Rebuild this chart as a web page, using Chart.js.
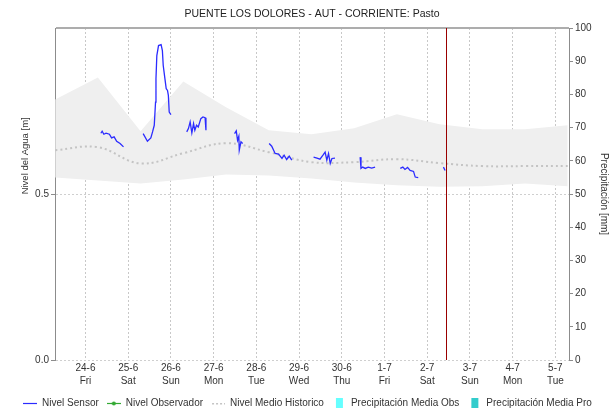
<!DOCTYPE html>
<html>
<head>
<meta charset="utf-8">
<title>Puente Los Dolores</title>
<script src="https://cdn.jsdelivr.net/npm/chart.js@4.4.0/dist/chart.umd.min.js"></script>
<style>
    html, body { margin: 0; padding: 0; background: #ffffff; }
    canvas { display: block; }
</style>
</head>
<body>
<canvas id="nivelChart" width="615" height="411"></canvas>
<script>
// nivel.js - water level chart for one station (sensor vs historic range)

// x axis is measured in days since 24-6 00:00
const dayLabels = ["24-6", "25-6", "26-6", "27-6", "28-6", "29-6", "30-6", "1-7", "2-7", "3-7", "4-7", "5-7"];
const weekdayLabels = ["Fri", "Sat", "Sun", "Mon", "Tue", "Wed", "Thu", "Fri", "Sat", "Sun", "Mon", "Tue"];

const levelTicks = [0, 0.5, 1.0];

// historic daily stats (07:00 each day)
const histDays = [-0.71, 0.29, 1.29, 2.29, 3.29, 4.29, 5.29, 6.29, 7.29, 8.29, 9.29, 10.29, 11.29];
const histUpper = [0.785, 0.851, 0.689, 0.839, 0.761, 0.692, 0.680, 0.698, 0.740, 0.710, 0.695, 0.695, 0.707];
const histLower = [0.550, 0.541, 0.532, 0.544, 0.559, 0.556, 0.547, 0.535, 0.526, 0.522, 0.523, 0.532, 0.523];
const histMedian = [0.632, 0.641, 0.592, 0.623, 0.653, 0.626, 0.596, 0.596, 0.605, 0.593, 0.584, 0.584, 0.584];

// sensor readings, null = no transmission
const sensorDays = [
    0.36, 0.39, 0.43, 0.48, 0.56, 0.61, 0.67, 0.73, 0.81, 0.89, null,
    1.35, 1.45, 1.53, 1.57, 1.61, 1.64, 1.65, 1.67, 1.71, 1.77, 1.80, 1.82, 1.86, 1.89, 1.92, 1.94, 1.96, 2.00, null,
    2.37, 2.41, 2.45, 2.49, 2.53, 2.56, 2.60, 2.64, 2.70, 2.75, 2.80, 2.82, null,
    3.49, 3.53, 3.56, 3.59, 3.60, 3.64, 3.68, null,
    4.30, 4.36, 4.44, 4.52, 4.60, 4.65, 4.71, 4.77, 4.83, null,
    5.34, 5.42, 5.49, 5.56, 5.61, 5.65, 5.69, 5.73, 5.77, 5.84, null,
    6.43, 6.45, 6.49, 6.55, 6.62, 6.70, 6.78, null,
    7.37, 7.43, 7.48, 7.54, 7.60, 7.68, 7.72, 7.79, null,
    8.38, 8.42
];
const sensorLevels = [
    0.683, 0.689, 0.680, 0.683, 0.680, 0.669, 0.672, 0.659, 0.652, 0.642, null,
    0.682, 0.659, 0.669, 0.687, 0.707, 0.777, 0.847, 0.917, 0.947, 0.950, 0.932, 0.887, 0.847, 0.817, 0.812, 0.797, 0.747, 0.739, null,
    0.687, 0.697, 0.717, 0.684, 0.712, 0.692, 0.707, 0.702, 0.727, 0.732, 0.730, 0.692, null,
    0.682, 0.690, 0.662, 0.674, 0.632, 0.657, 0.652, null,
    0.652, 0.644, 0.622, 0.620, 0.607, 0.617, 0.604, 0.614, 0.602, null,
    0.611, 0.608, 0.605, 0.617, 0.626, 0.602, 0.622, 0.592, 0.607, 0.608, null,
    0.611, 0.577, 0.581, 0.577, 0.581, 0.578, 0.581, null,
    0.577, 0.581, 0.574, 0.580, 0.571, 0.568, 0.551, 0.549, null,
    0.581, 0.571
];

// observer readings and rain: nothing reported this period
const observerDays = [];
const observerLevels = [];
const rainObs = [];
const rainForecast = [];

const nowDay = 8.436;      // 2-7 ~10:30
const viewStart = -0.714;
const viewEnd = 11.32;

const FONT = "'Liberation Sans', Arial, sans-serif";
const SENSOR_BLUE = '#2b2bff';
const OBS_GREEN = '#33aa33';
const HIST_GRAY = '#c4c4c4';

function points(xs, ys) {
    return xs.map((x, i) => ({ x: x, y: ys[i] }));
}

function legendIcon(draw) {
    const c = document.createElement('canvas');
    c.width = 14;
    c.height = 10;
    draw(c.getContext('2d'));
    return c;
}

const legendIcons = {
    'Nivel Sensor': legendIcon(g => {
        g.strokeStyle = SENSOR_BLUE;
        g.lineWidth = 1.2;
        g.beginPath(); g.moveTo(0, 5.5); g.lineTo(14, 5.5); g.stroke();
    }),
    'Nivel Observador': legendIcon(g => {
        g.strokeStyle = OBS_GREEN;
        g.fillStyle = OBS_GREEN;
        g.lineWidth = 1.2;
        g.beginPath(); g.moveTo(0, 5.5); g.lineTo(14, 5.5); g.stroke();
        g.beginPath(); g.arc(7, 5.5, 2, 0, Math.PI * 2); g.fill();
    }),
    'Nivel Medio Historico': legendIcon(g => {
        g.fillStyle = HIST_GRAY;
        for (let x = 1; x < 14; x += 4) g.fillRect(x, 5, 2, 1.5);
    }),
    'Precipitación Media Obs': legendIcon(g => {
        g.fillStyle = '#66ffff';
        g.fillRect(4, 0, 7, 10);
    }),
    'Precipitación Media Pro': legendIcon(g => {
        g.fillStyle = '#33cccc';
        g.fillRect(4, 0, 7, 10);
    })
};

// vertical marker for the current time
const nowLinePlugin = {
    id: 'nowLine',
    afterDatasetsDraw(chart) {
        const { ctx, chartArea, scales } = chart;
        const x = Math.round(scales.x.getPixelForValue(nowDay)) + 0.5;
        ctx.save();
        ctx.strokeStyle = '#9a0000';
        ctx.lineWidth = 1;
        ctx.beginPath();
        ctx.moveTo(x, chartArea.top);
        ctx.lineTo(x, chartArea.bottom);
        ctx.stroke();
        ctx.restore();
    }
};

// level axis title sits in the upper part of the axis, not centred
const levelTitlePlugin = {
    id: 'levelTitle',
    afterDraw(chart) {
        const { ctx, chartArea } = chart;
        ctx.save();
        ctx.translate(25, chartArea.top + chartArea.height * 0.385);
        ctx.rotate(-Math.PI / 2);
        ctx.font = '9.5px ' + FONT;
        ctx.fillStyle = '#333333';
        ctx.textAlign = 'center';
        ctx.textBaseline = 'middle';
        ctx.fillText('Nivel del Agua [m]', 0, 0);
        ctx.restore();
    }
};

Chart.defaults.font.family = FONT;
Chart.defaults.font.size = 10;
Chart.defaults.color = '#333333';

const isTop = ctx => ctx.tick && ctx.tick.value === 1;

new Chart(document.getElementById('nivelChart'), {
    type: 'line',
    data: {
        datasets: [
            {
                label: 'Historico Max',
                data: points(histDays, histUpper),
                borderColor: 'transparent',
                borderWidth: 0,
                backgroundColor: '#efefef',
                fill: '+1',
                pointRadius: 0,
                order: 10
            },
            {
                label: 'Historico Min',
                data: points(histDays, histLower),
                borderColor: 'transparent',
                borderWidth: 0,
                fill: false,
                pointRadius: 0,
                order: 10
            },
            {
                label: 'Nivel Sensor',
                data: points(sensorDays, sensorLevels),
                borderColor: SENSOR_BLUE,
                borderWidth: 1.3,
                pointRadius: 0,
                spanGaps: false,
                fill: false,
                order: 1
            },
            {
                label: 'Nivel Observador',
                data: points(observerDays, observerLevels),
                borderColor: OBS_GREEN,
                backgroundColor: OBS_GREEN,
                borderWidth: 1.2,
                pointRadius: 2,
                fill: false,
                order: 2
            },
            {
                label: 'Nivel Medio Historico',
                data: points(histDays, histMedian),
                borderColor: HIST_GRAY,
                borderWidth: 2,
                borderDash: [2, 3],
                tension: 0.4,
                pointRadius: 0,
                fill: false,
                order: 5
            },
            {
                type: 'bar',
                label: 'Precipitación Media Obs',
                data: rainObs,
                backgroundColor: '#66ffff',
                yAxisID: 'y2',
                order: 8
            },
            {
                type: 'bar',
                label: 'Precipitación Media Pro',
                data: rainForecast,
                backgroundColor: '#33cccc',
                yAxisID: 'y2',
                order: 8
            }
        ]
    },
    options: {
        responsive: false,
        devicePixelRatio: 1,
        animation: false,
        layout: { padding: { top: 0, right: 0, bottom: -7, left: 0 } },
        plugins: {
            title: {
                display: true,
                text: 'PUENTE LOS DOLORES - AUT - CORRIENTE: Pasto',
                fullSize: false,
                color: '#222222',
                font: { size: 10.5, weight: 'normal' },
                padding: { top: 8, bottom: 7.4 }
            },
            legend: {
                position: 'bottom',
                labels: {
                    usePointStyle: true,
                    pointStyleWidth: 14,
                    padding: 8,
                    color: '#333333',
                    font: { size: 10 },
                    generateLabels: chart => {
                        const items = Chart.defaults.plugins.legend.labels.generateLabels(chart);
                        return items
                            .filter(item => legendIcons[item.text])
                            .map(item => Object.assign(item, { pointStyle: legendIcons[item.text] }));
                    }
                }
            },
            tooltip: { enabled: false }
        },
        scales: {
            x: {
                type: 'linear',
                min: viewStart,
                max: viewEnd,
                offset: false,
                afterBuildTicks: axis => {
                    axis.ticks = dayLabels.map((_, i) => ({ value: i }));
                },
                afterFit: axis => { axis.height = 30; },
                ticks: {
                    autoSkip: false,
                    maxRotation: 0,
                    padding: 2,
                    font: { size: 10, lineHeight: 1.3 },
                    callback: v => [dayLabels[v], weekdayLabels[v]]
                },
                grid: { color: '#c8c8c8', drawTicks: false, offset: false },
                border: { display: false, dash: [2, 2] }
            },
            y: {
                position: 'left',
                min: 0,
                max: 1,
                afterBuildTicks: axis => {
                    axis.ticks = levelTicks.map(v => ({ value: v }));
                },
                afterFit: axis => { axis.width = 55; },
                ticks: {
                    padding: 2,
                    callback: v => (v === 1 ? '' : v.toFixed(1))
                },
                grid: {
                    color: ctx => (isTop(ctx) ? '#adadad' : '#cfcfcf'),
                    lineWidth: ctx => (isTop(ctx) ? 2 : 1),
                    tickLength: 4,
                    tickColor: ctx => (isTop(ctx) ? 'transparent' : '#8c8c8c')
                },
                border: {
                    color: '#8c8c8c',
                    dash: ctx => (isTop(ctx) ? [] : [2, 2])
                }
            },
            y2: {
                position: 'right',
                min: 0,
                max: 100,
                afterFit: axis => { axis.width = 46; },
                ticks: { stepSize: 10, padding: 2 },
                grid: { drawOnChartArea: false, tickLength: 4, tickColor: '#8c8c8c' },
                border: { color: '#8c8c8c' },
                title: {
                    display: true,
                    text: 'Precipitación [mm]',
                    color: '#333333',
                    font: { size: 10 },
                    padding: { top: 5, bottom: 0 }
                }
            }
        }
    },
    plugins: [nowLinePlugin, levelTitlePlugin]
});
</script>
</body>
</html>
